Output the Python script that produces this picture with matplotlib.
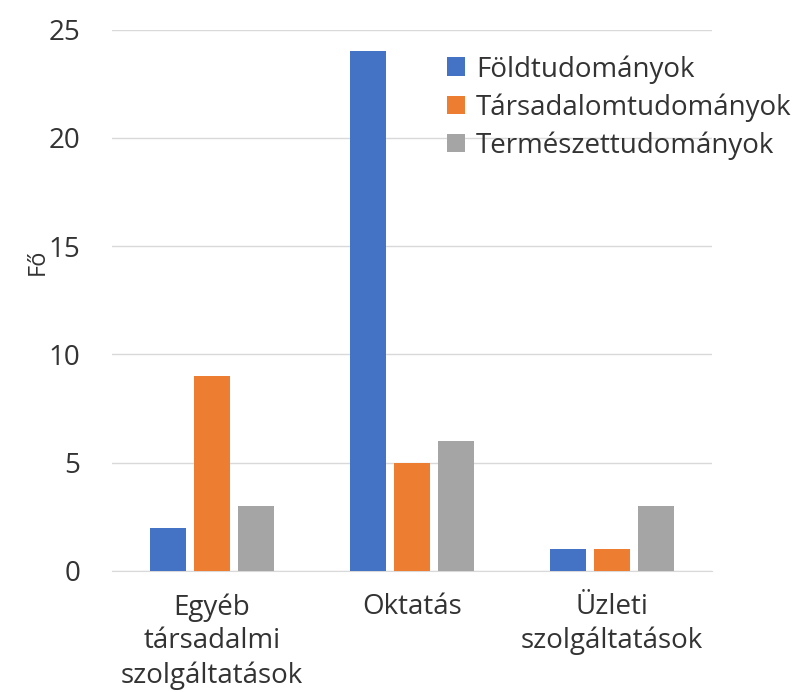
import numpy as np
import matplotlib
matplotlib.use('Agg')
import matplotlib.pyplot as plt

plt.rcParams['font.family'] = ['Open Sans', 'DejaVu Sans']

categories = ['Egyéb\ntársadalmi\nszolgáltatások', 'Oktatás', 'Üzleti\nszolgáltatások']
series_names = ['Földtudományok', 'Társadalomtudományok', 'Természettudományok']
foldtud = [2, 24, 1]
tarsadalomtud = [9, 5, 1]
termeszettud = [3, 6, 3]
colors = ['#4472C4', '#ED7D31', '#A5A5A5']
txt = '#333333'

fig = plt.figure(figsize=(8, 6.92), dpi=100)
ax = fig.add_axes([0.14, 0.175, 0.75, 0.782])

x = np.arange(len(categories))
width = 0.18
step = 0.222
for i, (vals, name) in enumerate(zip([foldtud, tarsadalomtud, termeszettud], series_names)):
    ax.bar(x + (i - 1) * step, vals, width, color=colors[i], label=name, zorder=3)

ax.set_xlim(-0.5, 2.5)
ax.set_ylim(0, 25)
ax.set_yticks([0, 5, 10, 15, 20, 25])
ax.grid(axis='y', color='#D9D9D9', linewidth=1, zorder=0)
for s in ['top', 'right', 'left']:
    ax.spines[s].set_visible(False)
ax.spines['bottom'].set_color('#D9D9D9')
ax.tick_params(axis='y', length=0, labelsize=20, colors=txt, pad=23)
ax.tick_params(axis='x', length=0, labelsize=20, colors=txt, pad=16)
ax.set_xticks(x)
ax.set_xticklabels(categories, fontsize=20, linespacing=1.27)
fig.text(38 / 800, 1 - 262 / 692, 'Fő', fontsize=17, color=txt, rotation=90,
         ha='center', va='center')

ax.legend(loc='upper left', bbox_to_anchor=(447 / 800, 1 - 55 / 692),
          bbox_transform=fig.transFigure, frameon=False, fontsize=20,
          borderpad=0, borderaxespad=0,
          handlelength=0.65, handleheight=0.65, handletextpad=0.4, labelspacing=0.35,
          labelcolor=txt)

plt.savefig('out.png', dpi=100)
